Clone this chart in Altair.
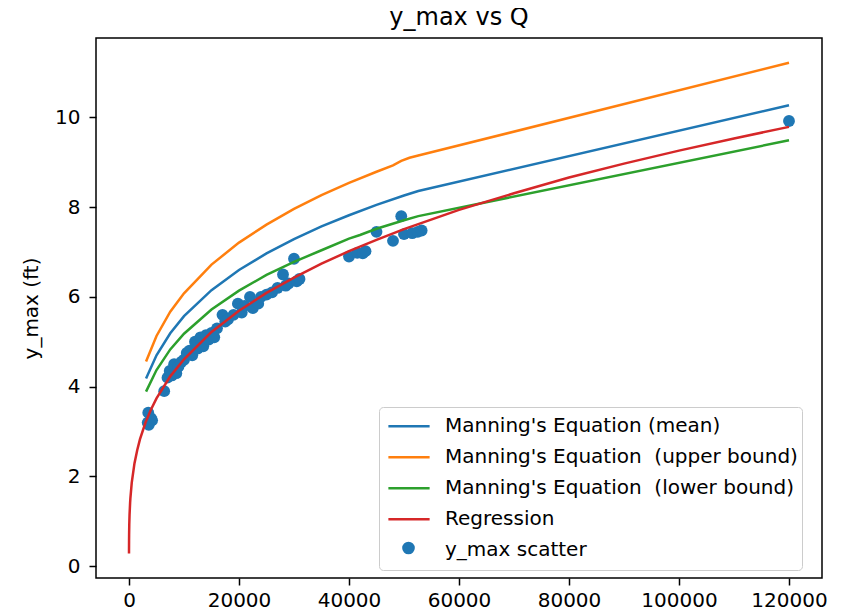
import altair as alt
import pandas as pd

# ---- data ----
scatter_q = [3400, 3500, 3600, 4000, 4200, 6400, 7000, 7400, 7800, 8200, 8600, 9000, 9500,
             10000, 10500, 11000, 11500, 12000, 12500, 13000, 13500, 14000, 14500, 15000,
             15500, 16000, 17000, 17500, 18000, 19000, 19800, 20500, 21000, 22000, 22500,
             23500, 24000, 25000, 26000, 27000, 28000, 28500, 29000, 30000, 30500, 31000,
             40000, 41500, 42500, 43000, 45000, 48000, 49500, 50000, 51500, 52500, 53200, 120000]
scatter_y = [3.20, 3.42, 3.15, 3.30, 3.25, 3.90, 4.20, 4.35, 4.25, 4.50, 4.30, 4.45, 4.55,
             4.60, 4.75, 4.80, 4.70, 5.00, 4.85, 5.10, 4.90, 5.15, 5.05, 5.20,
             5.10, 5.30, 5.60, 5.45, 5.50, 5.60, 5.85, 5.65, 5.80, 6.00, 5.75,
             5.85, 6.00, 6.05, 6.10, 6.20, 6.50, 6.25, 6.30, 6.85, 6.35, 6.40,
             6.90, 6.98, 6.97, 7.02, 7.45, 7.25, 7.80, 7.40, 7.42, 7.45, 7.48, 9.92]

mean_q = [3100, 5000, 7500, 10000, 15000, 20000, 25000, 30000, 35000, 40000, 45000, 50000, 52600, 120000]
mean_y = [4.18, 4.70, 5.19, 5.57, 6.15, 6.60, 6.97, 7.29, 7.57, 7.82, 8.05, 8.26, 8.36, 10.27]

upper_q = [3100, 5000, 7500, 10000, 15000, 20000, 25000, 30000, 35000, 40000, 45000, 48000,
           49500, 51000, 52600, 120000]
upper_y = [4.56, 5.13, 5.67, 6.08, 6.72, 7.21, 7.61, 7.96, 8.27, 8.54, 8.79, 8.93,
           9.03, 9.10, 9.15, 11.22]

lower_q = [3100, 5000, 7500, 10000, 15000, 20000, 25000, 30000, 35000, 40000, 42000, 45000,
           50000, 52600, 120000]
lower_y = [3.89, 4.37, 4.83, 5.18, 5.72, 6.14, 6.49, 6.78, 7.04, 7.30, 7.38, 7.52,
           7.71, 7.80, 9.49]

reg_q = [1, 2, 5, 10, 20, 50, 100, 200, 250, 500, 1000, 1500, 2000, 3000, 4000, 5000, 7500,
         10000, 15000, 20000, 25000, 30000, 35000, 40000, 45000, 50000, 60000, 70000, 80000,
         90000, 100000, 110000, 120000]
reg_y = [0.283, 0.349, 0.46, 0.569, 0.70, 0.926, 1.142, 1.41, 1.508, 1.86, 2.295, 2.59, 2.83,
         3.20, 3.49, 3.74, 4.23, 4.61, 5.22, 5.69, 6.09, 6.43, 6.74, 7.02, 7.27, 7.51, 7.94,
         8.31, 8.66, 8.97, 9.26, 9.53, 9.79]

L_MEAN = "Manning's Equation (mean)"
L_UP = "Manning's Equation \u00a0(upper bound)"
L_LOW = "Manning's Equation \u00a0(lower bound)"
L_REG = "Regression"
L_SC = "y_max scatter"

series_names = [L_MEAN, L_UP, L_LOW, L_REG, L_SC]
series_colors = ["#1f77b4", "#ff7f0e", "#2ca02c", "#d62728", "rgba(0,0,0,0)"]
scatter_color = "#1f77b4"

x_ticks = [0, 20000, 40000, 60000, 80000, 100000, 120000]
y_ticks = [0, 2, 4, 6, 8, 10]

rows = []
for name, qs, ys in [(L_MEAN, mean_q, mean_y), (L_UP, upper_q, upper_y),
                     (L_LOW, lower_q, lower_y), (L_REG, reg_q, reg_y)]:
    for q, y in zip(qs, ys):
        rows.append({"Q": q, "y": y, "series": name})
lines_df = pd.DataFrame(rows)
scatter_df = pd.DataFrame({"Q": scatter_q, "y": scatter_y, "series": L_SC})

FONT = "DejaVu Sans"

# main legend (lines + label for scatter entry)
line_legend = alt.Legend(
    title=None,
    orient="none",
    legendX=283,
    legendY=369,
    labelFontSize=20,
    labelFont=FONT,
    labelColor="#000000",
    labelOffset=14,
    labelLimit=600,
    clipHeight=30.5,
    rowPadding=0,
    padding=4,
    symbolOffset=4,
    strokeColor="#cccccc",
    fillColor="rgba(255,255,255,0.8)",
    cornerRadius=4,
    symbolType="stroke",
    symbolSize=1700,
    symbolStrokeWidth=2.5,
    zindex=1,
)

# circle symbol for the scatter entry, placed on the 5th legend row
scatter_legend = alt.Legend(
    title=None,
    orient="none",
    legendX=306,
    legendY=503.5,
    labelExpr="''",
    labelFontSize=1,
    padding=0,
    symbolType="circle",
    symbolSize=160,
    symbolFillColor=scatter_color,
    symbolStrokeWidth=0,
    symbolOpacity=1,
    zindex=2,
)

x_enc = alt.X("Q:Q", scale=alt.Scale(domain=[-6000, 126000], nice=False, zero=False),
              axis=alt.Axis(values=x_ticks, format="d", title=None, labelPadding=5))
y_enc = alt.Y("y:Q", scale=alt.Scale(domain=[-0.264, 11.77], nice=False, zero=False),
              axis=alt.Axis(values=y_ticks, format="d", title="y_max (ft)", labelPadding=9))

points = alt.Chart(scatter_df).mark_point(filled=True, size=140, opacity=1,
                                          color=scatter_color).encode(
    x=x_enc, y=y_enc,
    shape=alt.Shape("series:N", scale=alt.Scale(domain=[L_SC], range=["circle"]),
                    legend=scatter_legend))

lines = alt.Chart(lines_df).mark_line(strokeWidth=2.5).encode(
    x=x_enc, y=y_enc,
    color=alt.Color("series:N",
                    scale=alt.Scale(domain=series_names, range=series_colors),
                    legend=line_legend),
    order="Q:Q")

chart = alt.layer(points, lines).properties(
    width=726,
    height=540,
    background="white",
    title=alt.Title("y_max vs Q", fontSize=24, font=FONT, fontWeight="normal",
                    color="#000000", offset=8),
    autosize=alt.AutoSizeParams(type="none"),
    padding={"left": 88, "top": 30, "right": 20, "bottom": 40},
).resolve_scale(color="independent", shape="independent").configure_view(
    stroke="#000000", strokeWidth=1.5
).configure_axis(
    grid=False,
    domain=False,
    labelFont=FONT,
    labelFontSize=20,
    labelColor="#000000",
    tickColor="#000000",
    tickSize=7,
    tickWidth=1.5,
    titleFont=FONT,
    titleFontSize=20,
    titleFontWeight="normal",
    titleColor="#000000",
    titlePadding=13,
)

chart.save("out.html", embed_options={"renderer": "svg", "actions": False})
